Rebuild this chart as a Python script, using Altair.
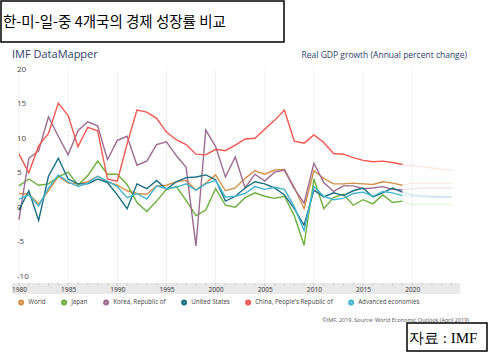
import altair as alt
import pandas as pd

# ---------------- data ----------------
years = list(range(1980, 2025))
last_actual = 2019

world = [2.1, 2.0, 0.6, 2.5, 4.6, 3.6, 3.5, 3.8, 4.6, 3.8,
         3.3, 2.5, 2.1, 2.0, 3.2, 3.3, 3.8, 4.0, 2.6, 3.6,
         4.8, 2.5, 2.9, 4.3, 5.4, 4.9, 5.5, 5.6, 3.0, -0.1,
         5.4, 4.3, 3.5, 3.5, 3.6, 3.5, 3.4, 3.8, 3.6, 3.3,
         3.6, 3.6, 3.6, 3.6, 3.6]
japan = [3.2, 4.2, 3.3, 3.5, 4.5, 5.2, 3.3, 4.7, 6.8, 4.9,
         4.9, 3.4, 0.8, -0.5, 1.0, 2.7, 3.1, 1.1, -1.1, -0.3,
         2.8, 0.4, 0.1, 1.5, 2.2, 1.7, 1.4, 1.7, -1.1, -5.4,
         4.2, -0.1, 1.5, 2.0, 0.4, 1.2, 0.6, 1.9, 0.8, 1.0,
         0.5, 0.5, 0.5, 0.5, 0.5]
korea = [-1.7, 7.2, 8.3, 13.2, 10.4, 7.7, 11.2, 12.5, 11.9, 7.0,
         9.8, 10.4, 6.2, 6.8, 9.2, 9.6, 7.6, 5.9, -5.5, 11.3,
         8.9, 4.5, 7.4, 2.9, 4.9, 3.9, 5.2, 5.5, 2.8, 0.7,
         6.5, 3.7, 2.4, 3.2, 3.2, 2.8, 2.9, 3.1, 2.7, 2.6,
         2.8, 2.9, 2.9, 2.9, 2.9]
usa = [-0.3, 2.5, -1.8, 4.6, 7.2, 4.2, 3.5, 3.5, 4.2, 3.7,
       1.9, -0.1, 3.5, 2.8, 4.0, 2.7, 3.8, 4.4, 4.5, 4.8,
       4.1, 1.0, 1.7, 2.9, 3.8, 3.5, 2.9, 1.9, -0.1, -2.5,
       2.6, 1.6, 2.2, 1.8, 2.5, 2.9, 1.6, 2.2, 2.9, 2.3,
       1.9, 1.8, 1.7, 1.6, 1.6]
china = [7.8, 5.1, 9.0, 10.8, 15.2, 13.4, 8.9, 11.7, 11.2, 4.2,
         3.9, 9.3, 14.2, 13.9, 13.0, 11.0, 9.9, 9.2, 7.8, 7.7,
         8.5, 8.3, 9.1, 10.0, 10.1, 11.4, 12.7, 14.2, 9.7, 9.4,
         10.6, 9.5, 7.9, 7.8, 7.3, 6.9, 6.7, 6.8, 6.6, 6.3,
         6.1, 6.0, 5.8, 5.6, 5.5]
advanced = [1.3, 1.9, 0.3, 2.9, 4.8, 3.8, 3.1, 3.6, 4.6, 3.9,
            3.1, 1.5, 2.1, 1.3, 3.2, 2.8, 3.0, 3.5, 2.6, 3.5,
            4.0, 1.6, 1.7, 2.1, 3.1, 2.7, 3.0, 2.7, 0.2, -3.3,
            3.1, 1.7, 1.2, 1.4, 2.1, 2.3, 1.7, 2.4, 2.2, 1.8,
            1.7, 1.6, 1.6, 1.6, 1.6]

series_names = ["World", "Japan", "Korea, Republic of", "United States",
                "China, People's Republic of", "Advanced economies"]
series_values = [world, japan, korea, usa, china, advanced]
series_colors = ["#d4914a", "#6cae3b", "#9d6b90", "#1b6f84", "#f7564f", "#45b5cf"]

x_ticks = [1980, 1985, 1990, 1995, 2000, 2005, 2010, 2015, 2020]
y_ticks = [-10, -5, 0, 5, 10, 15, 20]

title_text = "한-미-일-중 4개국의 경제 성장률 비교"
brand_text = "IMF DataMapper"
subtitle_text = "Real GDP growth (Annual percent change)"
footer_text = "©IMF, 2019, Source: World Economic Outlook (April 2019)"
source_text = "자료 : IMF"

# ---------------- tables ----------------
rows = []
for name, vals in zip(series_names, series_values):
    for yr, v in zip(years, vals):
        rows.append({"country": name, "year": yr, "value": v})
df = pd.DataFrame(rows)
years_df = pd.DataFrame({"year": years})
grid_df = pd.DataFrame({"year": x_ticks})
ylab_df = pd.DataFrame({"v": y_ticks, "label": [str(v) for v in y_ticks]})

W, H = 448, 213
FONT = "Open Sans"

x_scale = alt.Scale(domain=[1979.29, 2024.86], nice=False, zero=False)
y_scale = alt.Scale(domain=[-10.87, 20], nice=False, zero=False)
color_scale = alt.Scale(domain=series_names, range=series_colors)

x_axis = alt.Axis(values=x_ticks, format="d", title=None, labelFontSize=6.6,
                  labelColor="#333333", labelFont=FONT, domain=False,
                  ticks=False, tickSize=0, labelPadding=6,
                  labelBaseline="middle", grid=False, labelFlush=False,
                  labelOverlap=False, zindex=2)

legend = alt.Legend(
    title=None, orient="none", legendX=6, legendY=229,
    direction="horizontal", symbolType="circle", symbolSize=6,
    symbolStrokeWidth=3.5, symbolOpacity=1, labelOpacity=1,
    labelFontSize=6.2, labelColor="#444444",
    labelFont=FONT, columnPadding=9, labelOffset=4, padding=0,
    labelLimit=200,
)

grid = alt.Chart(grid_df).mark_rule(color="#f0f0f0", strokeWidth=1).encode(
    x=alt.X("year:Q", scale=x_scale, axis=x_axis),
    y=alt.value(0), y2=alt.value(H),
)

band = alt.Chart(pd.DataFrame({"k": [0]})).mark_rect(fill="#e9e9e9").encode(
    x=alt.value(0), x2=alt.value(W), y=alt.value(H), y2=alt.value(H + 11),
)

minor_ticks = alt.Chart(years_df).mark_rule(color="#c4c4c4", strokeWidth=1).encode(
    x=alt.X("year:Q", scale=x_scale, axis=x_axis),
    y=alt.value(H + 0.5),
    y2=alt.value(H + 2.5),
)

solid = alt.Chart(df).transform_filter(
    f"datum.year <= {last_actual}"
).mark_line(strokeWidth=1.4).encode(
    x=alt.X("year:Q", scale=x_scale, axis=x_axis),
    y=alt.Y("value:Q", scale=y_scale, axis=None),
    color=alt.Color("country:N", scale=color_scale, sort=series_names,
                    legend=legend),
)

faded = alt.Chart(df).transform_filter(
    f"datum.year >= {last_actual}"
).mark_line(strokeWidth=1.4, opacity=0.16).encode(
    x=alt.X("year:Q", scale=x_scale, axis=x_axis),
    y=alt.Y("value:Q", scale=y_scale, axis=None),
    color=alt.Color("country:N", scale=color_scale, sort=series_names,
                    legend=legend),
)

y_labels = alt.Chart(ylab_df).mark_text(
    align="left", baseline="middle", fontSize=8, font=FONT, color="#444444",
).encode(
    y=alt.Y("v:Q", scale=y_scale, axis=None),
    x=alt.value(5),
    text=alt.Text("label:N"),
)

one = pd.DataFrame({"k": [0]})

title_box = alt.Chart(one).mark_rect(fill="white", stroke="black", strokeWidth=1.5).encode(
    x=alt.value(-11), x2=alt.value(272), y=alt.value(-69), y2=alt.value(-28),
)
title = alt.Chart(pd.DataFrame({"t": [title_text]})).mark_text(
    align="left", baseline="alphabetic", fontSize=14.5, font="Noto Sans CJK KR",
    color="#000000",
).encode(text="t:N", x=alt.value(-9), y=alt.value(-43))

brand = alt.Chart(pd.DataFrame({"t": [brand_text]})).mark_text(
    align="left", baseline="alphabetic", fontSize=11, font=FONT, color="#2c3d6b",
).encode(text="t:N", x=alt.value(0), y=alt.value(-12))

subtitle = alt.Chart(pd.DataFrame({"t": [subtitle_text]})).mark_text(
    align="right", baseline="alphabetic", fontSize=8.5, font=FONT, color="#2c3d6b",
).encode(text="t:N", x=alt.value(455), y=alt.value(-12))

footer = alt.Chart(pd.DataFrame({"t": [footer_text]})).mark_text(
    align="right", baseline="middle", fontSize=5.5, font=FONT, color="#555555",
).encode(text="t:N", x=alt.value(457), y=alt.value(250))

source_box = alt.Chart(one).mark_rect(fill="white", stroke="black", strokeWidth=1.5).encode(
    x=alt.value(395), x2=alt.value(475), y=alt.value(253), y2=alt.value(281),
)
source = alt.Chart(pd.DataFrame({"t": [source_text]})).mark_text(
    align="left", baseline="alphabetic", fontSize=15, font="Liberation Serif",
    color="#000000",
).encode(text="t:N", x=alt.value(397), y=alt.value(273))

chart = alt.layer(
    grid, band, minor_ticks, solid, faded, title_box, title, brand,
    subtitle, footer, source_box, source, y_labels,
).properties(
    width=W, height=H,
    padding={"left": 12, "top": 70, "right": 28, "bottom": 70},
    autosize=alt.AutoSizeParams(type="none"),
    background="white",
).configure_view(stroke="transparent")

chart.save("out.html", embed_options={"renderer": "svg", "actions": False})
